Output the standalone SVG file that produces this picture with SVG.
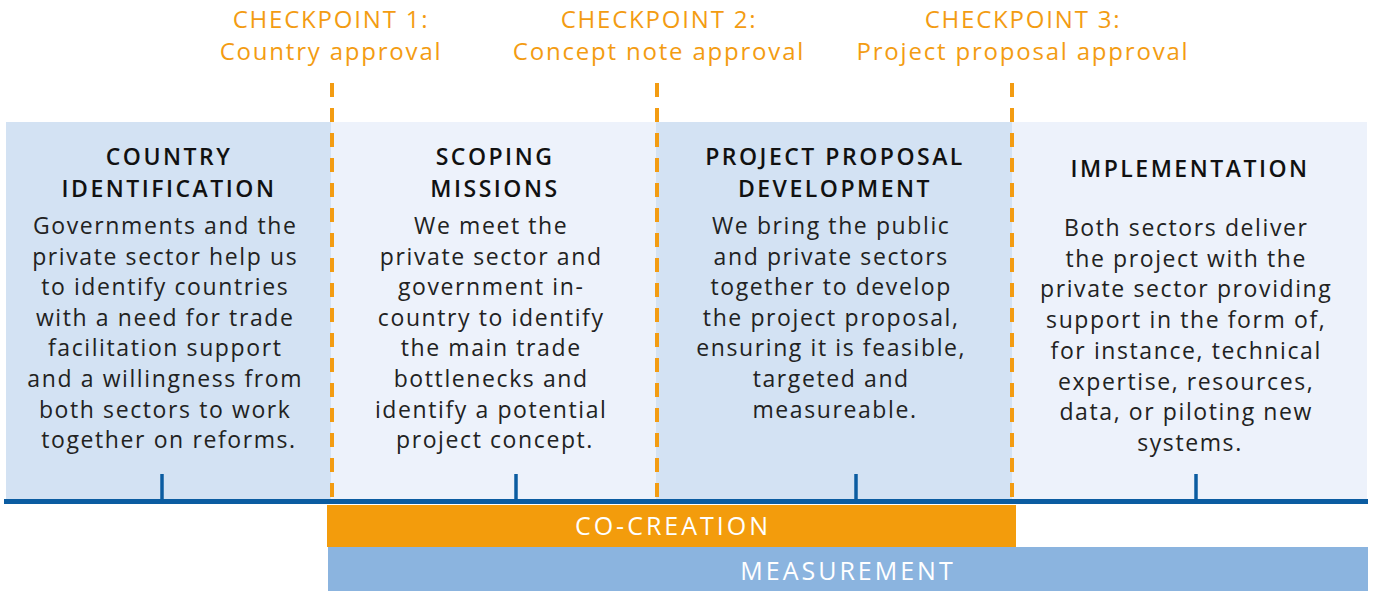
<svg xmlns="http://www.w3.org/2000/svg" width="1373" height="591" viewBox="0 0 1373 591">
  <style>
    .cp { font-family: "Open Sans", "Liberation Sans", sans-serif; font-size: 24px; font-weight: 500; fill: #f39c12; text-anchor: middle; letter-spacing: 1.8px; }
    .title { font-family: "Open Sans", "Liberation Sans", sans-serif; font-size: 23px; font-weight: 600; fill: #111; text-anchor: middle; letter-spacing: 2.5px; }
    .body { font-family: "Open Sans", "Liberation Sans", sans-serif; font-size: 23px; fill: #222; text-anchor: middle; letter-spacing: 1.6px; }
    .bar { font-family: "Open Sans", "Liberation Sans", sans-serif; font-size: 25px; font-weight: 500; fill: #fff; text-anchor: middle; letter-spacing: 3px; }
    .dash { stroke: #f39c12; stroke-width: 4; stroke-dasharray: 14 11; fill: none; }
    .tick { stroke: #0b5ca1; stroke-width: 3.5; }
  </style>

  <rect width="1373" height="591" fill="#fff"/>

  <!-- stage panels -->
  <g id="country-identification">
    <rect x="6" y="122" width="325" height="378" fill="#d3e2f3"/>
    <text class="title" x="169" y="165">COUNTRY</text>
    <text class="title" x="169" y="197">IDENTIFICATION</text>
    <text class="body" x="169" y="234">
      <tspan x="169">Governments and the</tspan>
      <tspan x="169" dy="30.6">private sector help us</tspan>
      <tspan x="169" dy="30.6">to identify countries</tspan>
      <tspan x="169" dy="30.6">with a need for trade</tspan>
      <tspan x="169" dy="30.6">facilitation support</tspan>
      <tspan x="169" dy="30.6">and a willingness from</tspan>
      <tspan x="169" dy="30.6">both sectors to work</tspan>
      <tspan x="169" dy="30.6">together on reforms.</tspan>
    </text>
  </g>

  <g id="scoping-missions">
    <rect x="331" y="122" width="325" height="378" fill="#edf2fb"/>
    <text class="title" x="495" y="165">SCOPING</text>
    <text class="title" x="495" y="197">MISSIONS</text>
    <text class="body" x="495" y="234">
      <tspan x="495">We meet the</tspan>
      <tspan x="495" dy="30.6">private sector and</tspan>
      <tspan x="495" dy="30.6">government in-</tspan>
      <tspan x="495" dy="30.6">country to identify</tspan>
      <tspan x="495" dy="30.6">the main trade</tspan>
      <tspan x="495" dy="30.6">bottlenecks and</tspan>
      <tspan x="495" dy="30.6">identify a potential</tspan>
      <tspan x="495" dy="30.6">project concept.</tspan>
    </text>
  </g>

  <g id="project-proposal-development">
    <rect x="656" y="122" width="356" height="378" fill="#d3e2f3"/>
    <text class="title" x="835" y="165">PROJECT PROPOSAL</text>
    <text class="title" x="835" y="197">DEVELOPMENT</text>
    <text class="body" x="835" y="234">
      <tspan x="835">We bring the public</tspan>
      <tspan x="835" dy="30.6">and private sectors</tspan>
      <tspan x="835" dy="30.6">together to develop</tspan>
      <tspan x="835" dy="30.6">the project proposal,</tspan>
      <tspan x="835" dy="30.6">ensuring it is feasible,</tspan>
      <tspan x="835" dy="30.6">targeted and</tspan>
      <tspan x="835" dy="30.6">measureable.</tspan>
    </text>
  </g>

  <g id="implementation">
    <rect x="1012" y="122" width="355" height="378" fill="#edf2fb"/>
    <text class="title" x="1190" y="177">IMPLEMENTATION</text>
    <text class="body" x="1190" y="236">
      <tspan x="1190">Both sectors deliver</tspan>
      <tspan x="1190" dy="30.7">the project with the</tspan>
      <tspan x="1190" dy="30.7">private sector providing</tspan>
      <tspan x="1190" dy="30.7">support in the form of,</tspan>
      <tspan x="1190" dy="30.7">for instance, technical</tspan>
      <tspan x="1190" dy="30.7">expertise, resources,</tspan>
      <tspan x="1190" dy="30.7">data, or piloting new</tspan>
      <tspan x="1190" dy="30.7">systems.</tspan>
    </text>
  </g>

  <!-- timeline axis, ticks and checkpoint markers -->
  <g id="connectors">
    <line x1="4" y1="501.5" x2="1368" y2="501.5" stroke="#0b5ca1" stroke-width="5"/>
    <line class="tick" x1="162" y1="474" x2="162" y2="500"/>
    <line class="tick" x1="516" y1="474" x2="516" y2="500"/>
    <line class="tick" x1="856" y1="474" x2="856" y2="500"/>
    <line class="tick" x1="1196" y1="474" x2="1196" y2="500"/>
    <line class="dash" x1="332" y1="83" x2="332" y2="500"/>
    <line class="dash" x1="657" y1="83" x2="657" y2="500"/>
    <line class="dash" x1="1012" y1="83" x2="1012" y2="500"/>
  </g>

  <!-- checkpoint labels -->
  <g id="checkpoint-1">
    <text class="cp" x="331" y="28">CHECKPOINT 1:</text>
    <text class="cp" x="331" y="60">Country approval</text>
  </g>
  <g id="checkpoint-2">
    <text class="cp" x="659" y="28">CHECKPOINT 2:</text>
    <text class="cp" x="659" y="60">Concept note approval</text>
  </g>
  <g id="checkpoint-3">
    <text class="cp" x="1023" y="28">CHECKPOINT 3:</text>
    <text class="cp" x="1023" y="60">Project proposal approval</text>
  </g>

  <!-- spanning bars -->
  <g id="co-creation">
    <rect x="327" y="505" width="689" height="42" fill="#f39c0c"/>
    <text class="bar" x="673" y="535">CO-CREATION</text>
  </g>
  <g id="measurement">
    <rect x="328" y="547" width="1040" height="44" fill="#8bb4df"/>
    <text class="bar" x="848" y="580">MEASUREMENT</text>
  </g>
</svg>
